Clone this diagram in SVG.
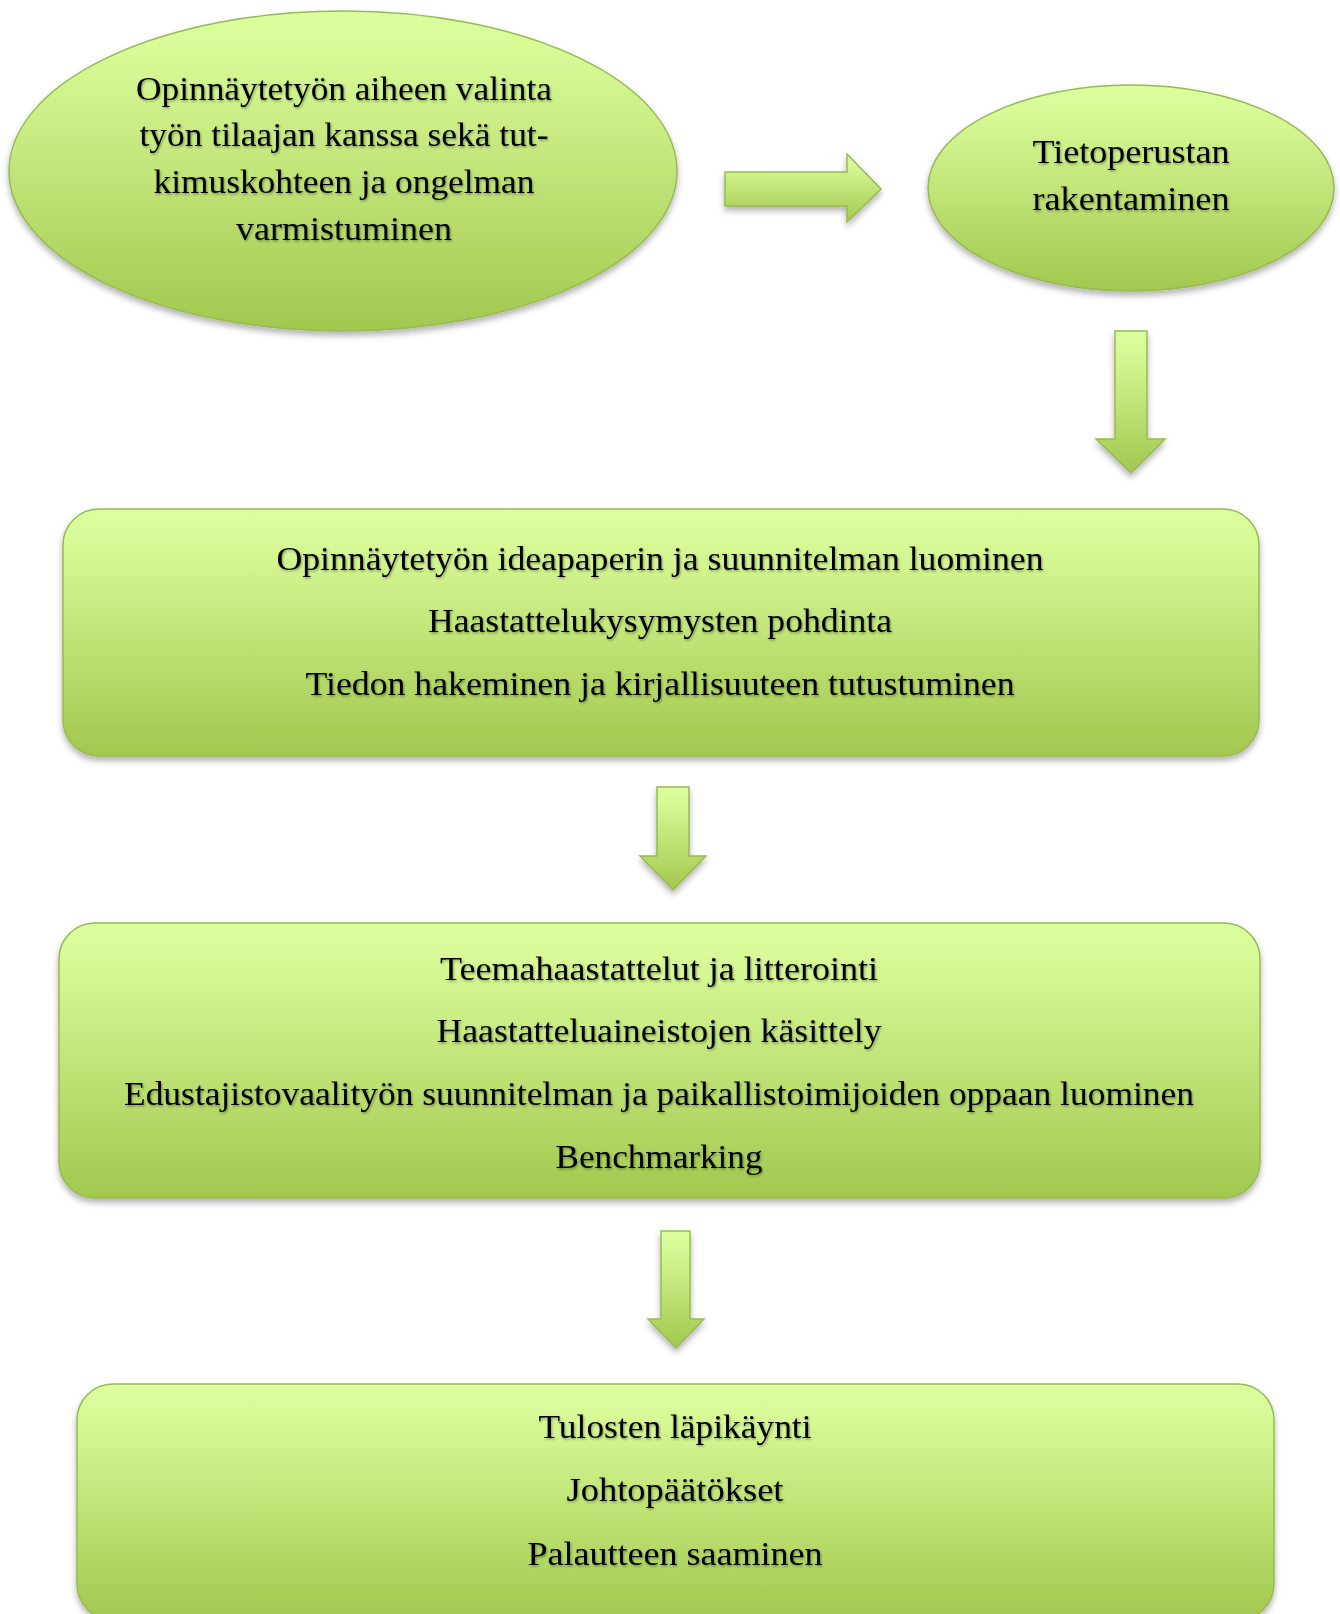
<svg xmlns="http://www.w3.org/2000/svg" width="1340" height="1614" viewBox="0 0 1340 1614">
<defs>
<linearGradient id="g" x1="0" y1="0" x2="0" y2="1">
<stop offset="0" stop-color="#DCFF9E"/>
<stop offset="0.12" stop-color="#D8FB98"/>
<stop offset="1" stop-color="#A2C84F"/>
</linearGradient>
<filter id="sh" x="-10%" y="-10%" width="120%" height="130%">
<feDropShadow dx="0" dy="4" stdDeviation="3" flood-color="#000" flood-opacity="0.3"/>
</filter>
<filter id="ts" x="-5%" y="-20%" width="110%" height="150%">
<feDropShadow dx="1" dy="1.5" stdDeviation="1" flood-color="#000" flood-opacity="0.35"/>
</filter>
</defs>
<style>
.shape{fill:url(#g);stroke:#98B954;stroke-width:1.5;filter:url(#sh)}
text{font-family:"Liberation Serif","Times New Roman",serif;font-size:34px;fill:#000;text-anchor:middle;filter:url(#ts)}
</style>
<rect width="1340" height="1614" fill="#fff"/>
<g id="n1">
<ellipse class="shape" cx="343" cy="171" rx="334" ry="160"/>
<text x="344" y="100" textLength="416" lengthAdjust="spacingAndGlyphs">Opinnäytetyön aiheen valinta</text>
<text x="344" y="146" textLength="409" lengthAdjust="spacingAndGlyphs">työn tilaajan kanssa sekä tut-</text>
<text x="344" y="193" textLength="381" lengthAdjust="spacingAndGlyphs">kimuskohteen ja ongelman</text>
<text x="344" y="240" textLength="216" lengthAdjust="spacingAndGlyphs">varmistuminen</text>
</g>
<g id="n2">
<ellipse class="shape" cx="1131" cy="188" rx="203" ry="103"/>
<text x="1131" y="163" textLength="197" lengthAdjust="spacingAndGlyphs">Tietoperustan</text>
<text x="1131" y="210" textLength="197" lengthAdjust="spacingAndGlyphs">rakentaminen</text>
</g>
<g id="n3">
<rect class="shape" x="63" y="509" width="1196" height="247" rx="36"/>
<text x="660" y="570" textLength="767" lengthAdjust="spacingAndGlyphs">Opinnäytetyön ideapaperin ja suunnitelman luominen</text>
<text x="660" y="632" textLength="464" lengthAdjust="spacingAndGlyphs">Haastattelukysymysten pohdinta</text>
<text x="660" y="695" textLength="709" lengthAdjust="spacingAndGlyphs">Tiedon hakeminen ja kirjallisuuteen tutustuminen</text>
</g>
<g id="n4">
<rect class="shape" x="59" y="923" width="1201" height="275" rx="36"/>
<text x="659" y="980" textLength="438" lengthAdjust="spacingAndGlyphs">Teemahaastattelut ja litterointi</text>
<text x="659" y="1042" textLength="445" lengthAdjust="spacingAndGlyphs">Haastatteluaineistojen käsittely</text>
<text x="659" y="1105" textLength="1070" lengthAdjust="spacingAndGlyphs">Edustajistovaalityön suunnitelman ja paikallistoimijoiden oppaan luominen</text>
<text x="659" y="1168" textLength="207" lengthAdjust="spacingAndGlyphs">Benchmarking</text>
</g>
<g id="n5">
<rect class="shape" x="77" y="1384" width="1197" height="236" rx="36"/>
<text x="675" y="1438" textLength="273" lengthAdjust="spacingAndGlyphs">Tulosten läpikäynti</text>
<text x="675" y="1501" textLength="217" lengthAdjust="spacingAndGlyphs">Johtopäätökset</text>
<text x="675" y="1565" textLength="295" lengthAdjust="spacingAndGlyphs">Palautteen saaminen</text>
</g>
<g id="connectors">
<path class="shape" d="M725,172 H847 V154 L881,189 L847,222 V206 H725 Z"/>
<path class="shape" d="M1115,331 H1147 V439 H1165 L1131,473 L1096,439 H1115 Z"/>
<path class="shape" d="M657,787 H689 V856 H706 L673,890 L640,856 H657 Z"/>
<path class="shape" d="M661,1231 H690 V1319 H704 L676,1348 L648,1319 H661 Z"/>
</g>
</svg>
